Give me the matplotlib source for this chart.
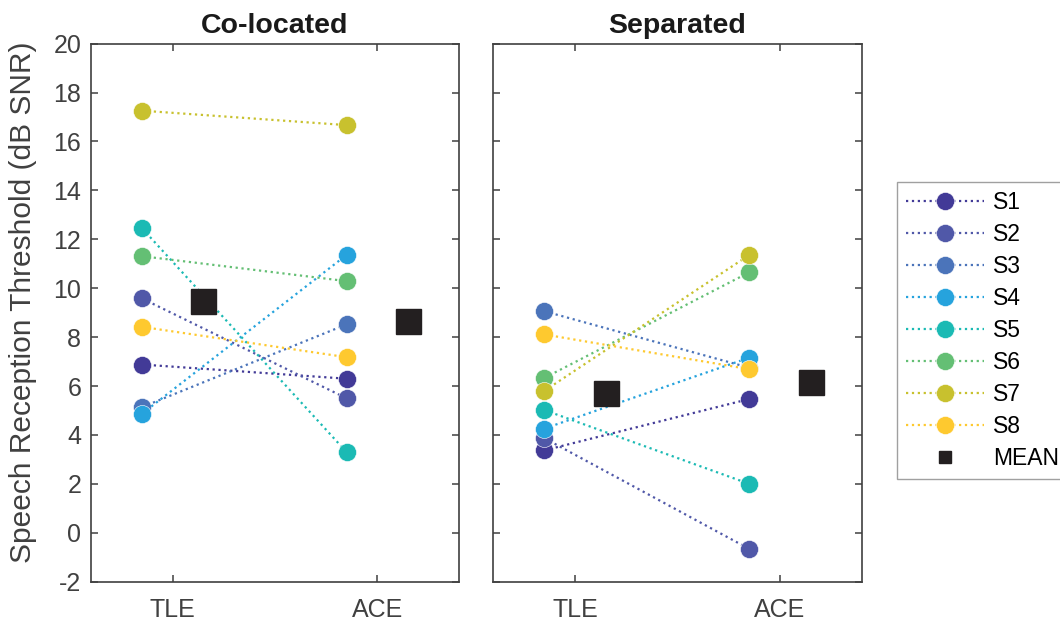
import matplotlib
matplotlib.use('Agg')
import matplotlib.pyplot as plt
from matplotlib.lines import Line2D
import numpy as np

plt.rcParams['font.family'] = ['Liberation Sans', 'DejaVu Sans']
plt.rcParams['axes.unicode_minus'] = False

# data (dB SNR)
subjects = ['S1', 'S2', 'S3', 'S4', 'S5', 'S6', 'S7', 'S8']
conditions = ['TLE', 'ACE']
colocated_tle = [6.88, 9.58, 5.14, 4.87, 12.45, 11.31, 17.26, 8.42]
colocated_ace = [6.30, 5.50, 8.52, 11.36, 3.30, 10.29, 16.67, 7.18]
separated_tle = [3.37, 3.87, 9.06, 4.26, 5.02, 6.33, 5.80, 8.11]
separated_ace = [5.47, -0.66, 6.75, 7.16, 2.00, 10.65, 11.36, 6.69]

colors = ['#423a97', '#5058a8', '#4b74ba', '#26a3dd', '#1bbab4', '#64bf74',
          '#c8c12e', '#fec92f']
grey = '#404040'

fig = plt.figure(figsize=(10.6, 6.23), dpi=100)
ax1 = fig.add_axes([0.0858, 0.0663, 0.3472, 0.8636])
ax2 = fig.add_axes([0.4651, 0.0663, 0.3481, 0.8636])

panels = [(ax1, 'Co-located', colocated_tle, colocated_ace),
          (ax2, 'Separated', separated_tle, separated_ace)]

for ax, title, tle, ace in panels:
    for i in range(len(subjects)):
        ax.plot([0.85, 1.85], [tle[i], ace[i]], ':', color=colors[i], lw=1.6,
                marker='o', markersize=13, markeredgecolor='white',
                markeredgewidth=0.4, label=subjects[i])
    ax.plot([1.15, 2.15], [np.mean(tle), np.mean(ace)], 's', color='#231f20',
            markersize=18, linestyle='none', label='MEAN')
    ax.set_xlim(0.6, 2.4)
    ax.set_ylim(-2, 20)
    ax.set_xticks([1, 2])
    ax.set_xticklabels(conditions)
    ax.set_yticks(np.arange(-2, 21, 2))
    ax.set_title(title, fontsize=20.5, fontweight='bold', pad=8, color='#1a1a1a')
    ax.tick_params(direction='in', length=5, width=1.1, color=grey,
                   labelcolor=grey, labelsize=18, top=True, right=True)
    ax.tick_params(axis='x', pad=12)
    ax.tick_params(axis='y', pad=7)
    for s in ax.spines.values():
        s.set_color(grey)
        s.set_linewidth(1.2)

ax2.set_yticklabels([])
ax1.set_ylabel('Speech Reception Threshold (dB SNR)', fontsize=21.5, color=grey)
ax1.yaxis.set_label_coords(-0.147, 0.52)

# legend with a smaller square for the mean
handles = [Line2D([], [], linestyle=':', lw=1.6, color=colors[i], marker='o',
                  markersize=13, markeredgecolor='white', markeredgewidth=0.4)
           for i in range(len(subjects))]
handles.append(Line2D([], [], linestyle='none', marker='s', color='#231f20',
                      markersize=9))
leg = fig.legend(handles, subjects + ['MEAN'], loc='upper left',
                 bbox_to_anchor=(897 / 1060, 1 - 182 / 623), fontsize=16.5,
                 frameon=True, fancybox=False, handlelength=3.4,
                 handletextpad=0.4, labelspacing=0.39, borderpad=0.4,
                 borderaxespad=0)
leg.get_frame().set_edgecolor('#888888')
leg.get_frame().set_linewidth(1.0)

plt.savefig('out.png', dpi=100)
plt.close()
